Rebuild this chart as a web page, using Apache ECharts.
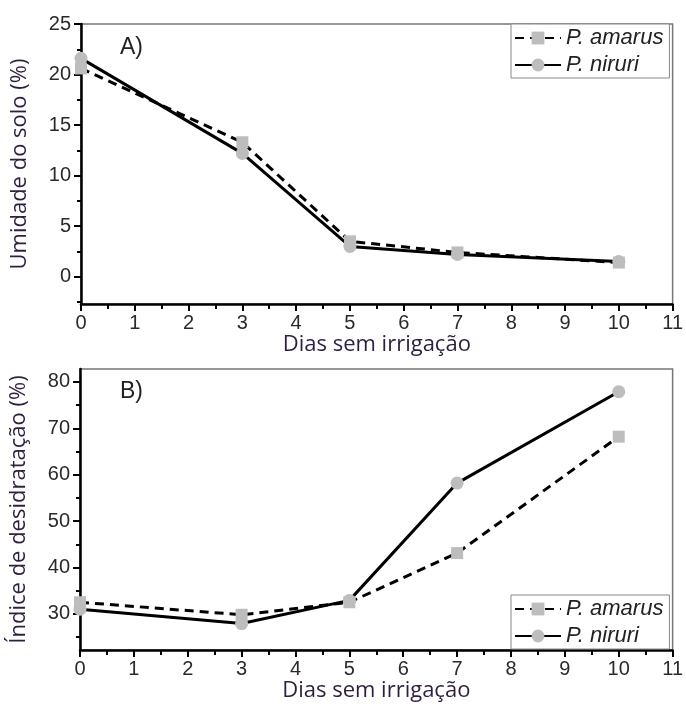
<!DOCTYPE html>
<html>
<head>
<meta charset="utf-8">
<script src="https://cdn.jsdelivr.net/npm/echarts@6/dist/echarts.min.js"></script>
<style>
html,body{margin:0;padding:0;background:#fff;}
#chart{width:686px;height:707px;}
</style>
</head>
<body>
<div id="chart"></div>
<script>
// ---- data ----
const days = [0, 3, 5, 7, 10];
const amarusA = [20.6, 13.3, 3.5, 2.4, 1.4];
const niruriA = [21.6, 12.2, 3.0, 2.2, 1.5];
const amarusB = [32.5, 29.8, 32.5, 43.1, 68.2];
const niruriB = [31.0, 27.9, 32.9, 58.2, 77.9];
const xTicks = [0, 1, 2, 3, 4, 5, 6, 7, 8, 9, 10, 11];
const yTicksA = [0, 5, 10, 15, 20, 25];
const yMinorA = [-2.5, 2.5, 7.5, 12.5, 17.5, 22.5];
const yTicksB = [30, 40, 50, 60, 70, 80];
const yMinorB = [25, 35, 45, 55, 65, 75];
const seriesNames = ['P. amarus', 'P. niruri'];
const xTitle = 'Dias sem irrigação';
const yTitleA = 'Umidade do solo (%)';
const yTitleB = 'Índice de desidratação (%)';

// ---- styles ----
const TITLE_COLOR = '#2e1f3f';
const LABEL_COLOR = '#2a2a2a';
const MARK_COLOR = '#bdbdbd';
const titleFont = {fontFamily: 'Open Sans', fontSize: 22, color: TITLE_COLOR};
const labelFont = {fontFamily: 'Liberation Sans', fontSize: 20, color: LABEL_COLOR};

function pairs(xs, ys) { return xs.map((x, i) => [x, ys[i]]); }

function xAxisCfg(gridIndex) {
  return {
    type: 'value', gridIndex: gridIndex,
    min: xTicks[0], max: xTicks[xTicks.length - 1], interval: 1,
    name: xTitle, nameLocation: 'middle', nameGap: 29,
    nameTextStyle: titleFont,
    axisLine: {show: true, onZero: false, lineStyle: {color: '#000', width: 2.5}},
    axisTick: {show: true, inside: false, length: 7, lineStyle: {color: '#000', width: 2}},
    minorTick: {show: true, splitNumber: 2, length: 5, lineStyle: {color: '#000', width: 2}},
    axisLabel: Object.assign({margin: 9, customValues: xTicks}, labelFont),
    splitLine: {show: false}, minorSplitLine: {show: false}
  };
}

function yAxisMain(gridIndex, min, max, ticks, name) {
  return {
    type: 'value', gridIndex: gridIndex, min: min, max: max,
    name: name, nameLocation: 'middle', nameGap: 50,
    nameTextStyle: titleFont,
    axisLine: {show: true, onZero: false, lineStyle: {color: '#000', width: 2.5}},
    axisTick: {show: true, inside: false, length: 7, customValues: ticks, lineStyle: {color: '#000', width: 2}},
    axisLabel: Object.assign({margin: 10, customValues: ticks}, labelFont),
    splitLine: {show: false}
  };
}
function yAxisMinor(gridIndex, min, max, ticks) {
  return {
    type: 'value', gridIndex: gridIndex, min: min, max: max, position: 'left',
    axisLine: {show: false, onZero: false},
    axisTick: {show: true, inside: false, length: 4, customValues: ticks, lineStyle: {color: '#000', width: 2}},
    axisLabel: {show: false},
    splitLine: {show: false}
  };
}

function lineSeries(name, xi, yi, data, dashed, symbol) {
  return {
    type: 'line', name: name, xAxisIndex: xi, yAxisIndex: yi,
    data: data, symbol: symbol, showSymbol: false, z: 2,
    lineStyle: {color: '#000', width: 3, type: dashed ? [9, 6] : 'solid'},
    itemStyle: {color: MARK_COLOR},
    emphasis: {disabled: true}, animation: false
  };
}
function markSeries(xi, yi, data, symbol, size) {
  return {
    type: 'scatter', xAxisIndex: xi, yAxisIndex: yi, data: data,
    symbol: symbol, symbolSize: size, z: 4,
    itemStyle: {color: MARK_COLOR, opacity: 1},
    emphasis: {disabled: true}, animation: false
  };
}

function legendCfg(left, top) {
  return {
    data: seriesNames, orient: 'vertical', left: left, top: top,
    padding: [3, 6, 2, 3], itemGap: 5, itemWidth: 46, itemHeight: 16,
    backgroundColor: '#fff', borderColor: '#888', borderWidth: 1, borderRadius: 0,
    textStyle: {fontFamily: 'Liberation Sans', fontStyle: 'italic', fontSize: 22, color: '#222', padding: [0, 0, 0, 0]},
    selectedMode: false
  };
}

const chart = echarts.init(document.getElementById('chart'), null, {renderer: 'canvas'});
chart.setOption({
  animation: false,
  backgroundColor: '#fff',
  title: [
    {text: 'A)', left: 115, top: 31, textStyle: {fontFamily: 'Liberation Sans', fontSize: 23, fontWeight: 'normal', color: '#222'}},
    {text: 'B)', left: 115, top: 375, textStyle: {fontFamily: 'Liberation Sans', fontSize: 23, fontWeight: 'normal', color: '#222'}}
  ],
  grid: [
    {left: 81, right: 13, top: 24, height: 280, show: true, borderColor: '#777', borderWidth: 1.5, backgroundColor: 'transparent'},
    {left: 80, right: 13, top: 369, height: 281, show: true, borderColor: '#777', borderWidth: 1.5, backgroundColor: 'transparent'}
  ],
  legend: [legendCfg(511, 24), legendCfg(511, 595)],
  xAxis: [xAxisCfg(0), xAxisCfg(1)],
  yAxis: [
    yAxisMain(0, -2.7, 25, yTicksA, yTitleA),
    yAxisMinor(0, -2.7, 25, yMinorA),
    yAxisMain(1, 22.2, 82.8, yTicksB, yTitleB),
    yAxisMinor(1, 22.2, 82.8, yMinorB)
  ],
  series: [
    lineSeries(seriesNames[0], 0, 0, pairs(days, amarusA), true, 'rect'),
    lineSeries(seriesNames[1], 0, 0, pairs(days, niruriA), false, 'circle'),
    markSeries(0, 0, pairs(days, niruriA), 'circle', 13),
    markSeries(0, 0, pairs(days, amarusA), 'rect', 12),
    lineSeries(seriesNames[0], 1, 2, pairs(days, amarusB), true, 'rect'),
    lineSeries(seriesNames[1], 1, 2, pairs(days, niruriB), false, 'circle'),
    markSeries(1, 2, pairs(days, niruriB), 'circle', 13),
    markSeries(1, 2, pairs(days, amarusB), 'rect', 12)
  ]
});
</script>
</body>
</html>
